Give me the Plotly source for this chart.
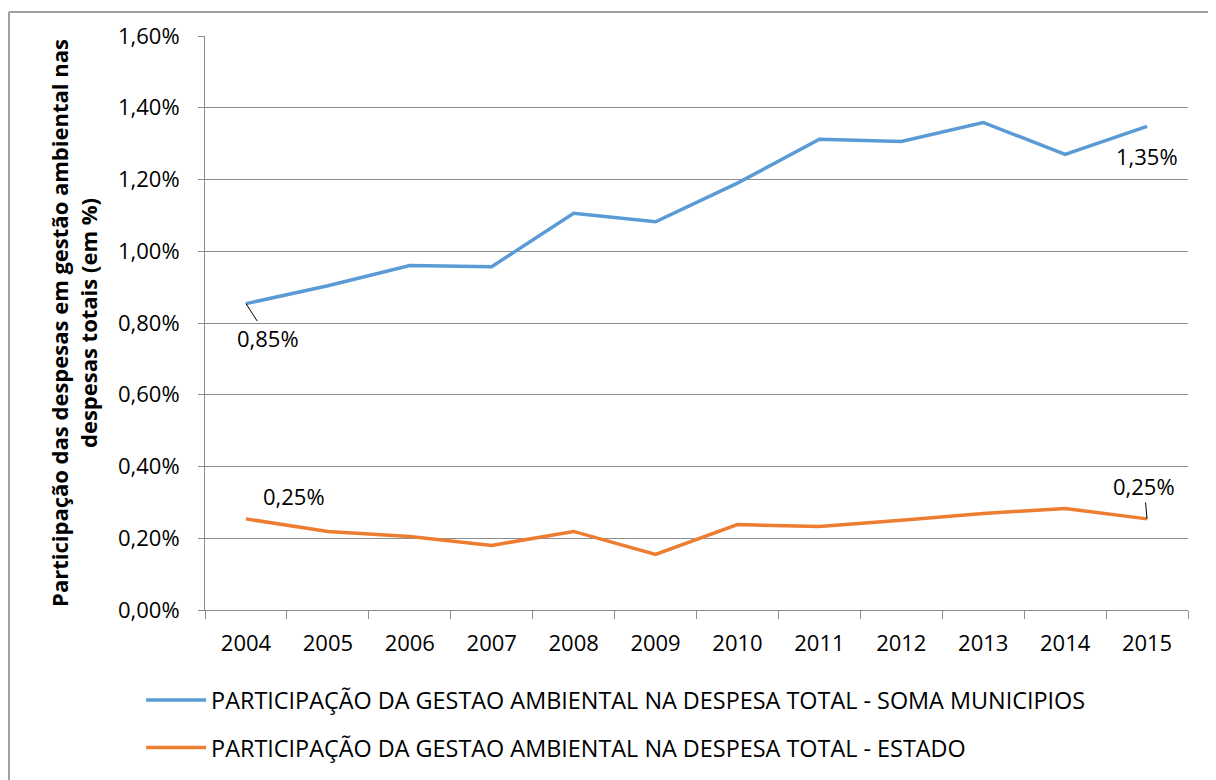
import plotly.graph_objects as go

years = ["2004", "2005", "2006", "2007", "2008", "2009",
         "2010", "2011", "2012", "2013", "2014", "2015"]
municipios = [0.854, 0.904, 0.960, 0.957, 1.106, 1.082,
              1.190, 1.312, 1.306, 1.359, 1.270, 1.348]
estado = [0.254, 0.219, 0.205, 0.180, 0.219, 0.155,
          0.238, 0.233, 0.250, 0.269, 0.283, 0.254]
y_ticks = [0.0, 0.2, 0.4, 0.6, 0.8, 1.0, 1.2, 1.4, 1.6]

name_mun = "PARTICIPAÇÃO DA GESTAO AMBIENTAL NA DESPESA TOTAL - SOMA MUNICIPIOS"
name_est = "PARTICIPAÇÃO DA GESTAO AMBIENTAL NA DESPESA TOTAL - ESTADO"

FONT = "Open Sans"
GRID = "#8c8c8c"

fig = go.Figure()
fig.add_trace(go.Scatter(x=years, y=municipios, mode="lines", name=name_mun,
                         line=dict(color="#5b9bd5", width=3.5),
                         legendgroup="a"))
fig.add_trace(go.Scatter(x=years, y=estado, mode="lines", name=name_est,
                         line=dict(color="#ed7d31", width=3.5),
                         legendgroup="b"))

fmt = lambda v: f"{v:.2f}".replace(".", ",") + "%"
ann = dict(font=dict(family=FONT, size=22, color="black"),
           arrowhead=0, arrowwidth=1, arrowcolor="black")
# annotation x given as category index (0 = first year, 11 = last)
last = len(years) - 1
fig.add_annotation(x=0, y=municipios[0], text=fmt(municipios[0]),
                   ax=22, ay=34, showarrow=True, **ann)
fig.add_annotation(x=last, y=municipios[-1], text=fmt(municipios[-1]),
                   showarrow=False, yshift=-30, **ann)
fig.add_annotation(x=0, y=estado[0], text=fmt(estado[0]),
                   showarrow=False, xshift=48, yshift=23, **ann)
fig.add_annotation(x=last, y=estado[-1], text=fmt(estado[-1]),
                   ax=-3, ay=-33, showarrow=True, **ann)

# chart frame (top and left edges visible)
fig.add_shape(type="line", xref="paper", yref="paper",
              x0=-0.1994, x1=1.04, y0=1.0416, y1=1.0416,
              line=dict(color="#a0a0a0", width=2))
fig.add_shape(type="line", xref="paper", yref="paper",
              x0=-0.1994, x1=-0.1994, y0=1.0416, y1=-0.3,
              line=dict(color="#a0a0a0", width=2))

fig.update_layout(
    width=1216, height=780,
    margin=dict(l=197, r=36, t=25, b=178),
    paper_bgcolor="white", plot_bgcolor="white",
    separators=",.",
    font=dict(family=FONT, size=22, color="black"),
    showlegend=True,
    legend=dict(orientation="v", x=-0.065, y=-0.119, xanchor="left", yanchor="top",
                font=dict(family=FONT, size=23.4), tracegroupgap=14,
                itemwidth=60),
    xaxis=dict(type="category", range=[-0.5, 11.5], tickson="boundaries",
               ticks="outside", ticklen=8, tickcolor=GRID, showline=True,
               linecolor=GRID, showgrid=False, tickfont=dict(size=22),
               ticklabelstandoff=14, tickangle=0),
    yaxis=dict(range=[0, 1.6], tickvals=y_ticks, ticktext=[fmt(v) for v in y_ticks],
               ticks="outside", ticklen=6, tickcolor=GRID, showline=True,
               linecolor=GRID, gridcolor=GRID, gridwidth=1, zeroline=False,
               tickfont=dict(size=22), ticklabelstandoff=14,
               title=dict(text="<b>Participação das despesas em gestão ambiental nas<br>despesas totais (em %)</b>",
                          font=dict(size=22), standoff=14)),
)

fig.write_html("out.html")
